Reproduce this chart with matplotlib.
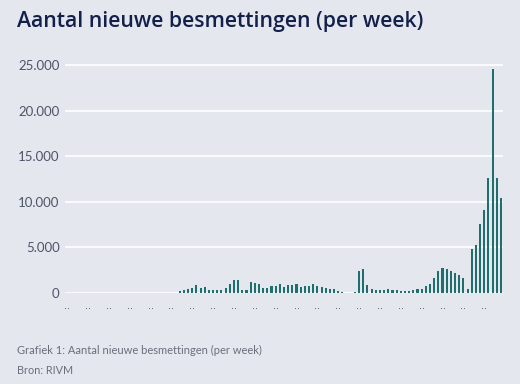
import matplotlib
matplotlib.use("Agg")
import matplotlib.pyplot as plt
import numpy as np
from matplotlib.ticker import FuncFormatter

# Weekly new infections (105 weeks)
cases = [
    0, 0, 10, 10, 10, 10, 0, 0, 0, 0,
    0, 0, 0, 0, 0, 0, 0, 0, 0, 0,
    0, 0, 0, 0, 0, 0, 40, 190, 300, 470,
    520, 840, 590, 660, 370, 300, 370, 370, 550, 950,
    1470, 1470, 370, 370, 1170, 1100, 950, 590, 590, 770,
    770, 1000, 680, 860, 860, 970, 680, 750, 750, 970,
    750, 640, 570, 470, 400, 220, 110, 0, 0, 80,
    2400, 2580, 880, 400, 330, 330, 300, 400, 330, 330,
    220, 220, 220, 290, 440, 440, 770, 1000, 1610, 2410,
    2700, 2630, 2410, 2200, 1970, 1680, 440, 4800, 5260, 7530,
    9100, 12640, 24560, 12640, 10380,
]
week_labels = [".."] * len(cases)
y_ticks = [0, 5000, 10000, 15000, 20000, 25000]

title = "Aantal nieuwe besmettingen (per week)"
caption = "Grafiek 1: Aantal nieuwe besmettingen (per week)"
source = "Bron: RIVM"

BG = "#E4E7EE"
BAR = "#1F6F6E"
TITLE_C = "#13204A"
TICK_C = "#4E5567"
CAP_C = "#6A6F7B"

W, H = 520, 384
fig = plt.figure(figsize=(W / 100, H / 100), dpi=100, facecolor=BG)

left, right = 65, 503
bottom_px = 293
top_px = 58
ax = fig.add_axes([left / W, (H - bottom_px) / H, (right - left) / W, (bottom_px - top_px) / H])
ax.set_facecolor(BG)

x = np.arange(len(cases))
ax.bar(x, cases, width=0.5, color=BAR, zorder=3)

ax.set_xlim(-0.5, len(cases) - 0.5)
ymax = 25000 * (bottom_px - top_px) / (bottom_px - 65)
ax.set_ylim(0, ymax)
ax.set_yticks(y_ticks)
ax.yaxis.set_major_formatter(FuncFormatter(lambda v, p: f"{int(v):,}".replace(",", ".")))
ax.grid(axis="y", color="white", linewidth=1.2, zorder=0)
ax.set_xticks(x[::5])
ax.set_xticklabels(week_labels[::5])
for s in ax.spines.values():
    s.set_visible(False)
ax.tick_params(axis="y", length=0, pad=3.8, labelsize=9.5, labelcolor=TICK_C)
ax.tick_params(axis="x", length=0, pad=6, labelsize=7, labelcolor=TICK_C)
for lab in ax.get_yticklabels():
    lab.set_family("Lato")
ax.set_axisbelow(True)

fig.text(17 / W, 1 - 22 / H, title, fontsize=15.3, fontweight="semibold", color=TITLE_C,
         family="Open Sans", va="center", ha="left")
fig.text(17 / W, 1 - 350 / H, caption, fontsize=8, color=CAP_C, family="Lato",
         va="center", ha="left")
fig.text(17 / W, 1 - 371 / H, source, fontsize=7.8, color=CAP_C, family="Lato",
         va="center", ha="left")

fig.savefig("out.png", dpi=100, facecolor=BG)
